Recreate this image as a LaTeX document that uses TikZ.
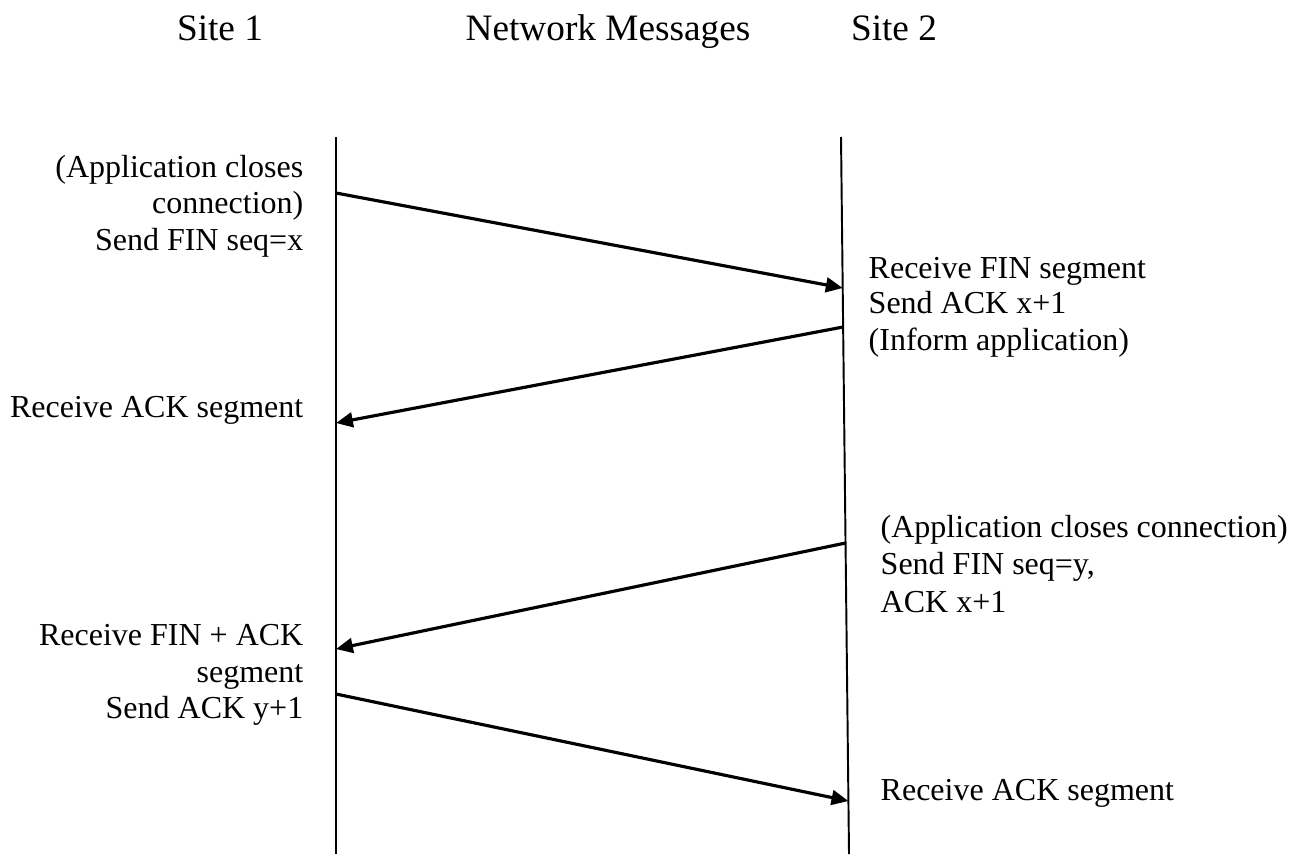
\documentclass[tikz,border=0pt]{standalone}
\usepackage{fontspec}
\setmainfont{Liberation Serif}
\usetikzlibrary{arrows.meta}
\begin{document}
\begin{tikzpicture}[x=0.01cm,y=-0.01cm,
  head/.style={font=\fontsize{10.6pt}{12pt}\selectfont,inner sep=0pt,anchor=base},
  lbl/.style={font=\fontsize{9.1pt}{10.4pt}\selectfont,inner sep=0pt},
  lft/.style={lbl,anchor=base east},
  rgt/.style={lbl,anchor=base west},
  life/.style={line width=0.55pt},
  msg/.style={line width=0.9pt,-{Triangle[length=4.8pt,width=4.2pt]}}]
\useasboundingbox (0,0) rectangle (1295,854);
% headings
\node[head] (h1) at (220,40) {Site 1};
\node[head] (hn) at (608,40) {Network Messages};
\node[head] (h2) at (894,40) {Site 2};
% lifelines
\coordinate (l1t) at (336,137);
\coordinate (l1b) at (336,854);
\coordinate (l2t) at (841,137);
\coordinate (l2b) at (849,854);
\draw[life] (l1t) -- (l1b);
\draw[life] (l2t) -- (l2b);
% message end points
\coordinate (m1s) at (336,193);
\coordinate (m1e) at (842.7,288);
\coordinate (m2s) at (843.1,327);
\coordinate (m2e) at (336,423);
\coordinate (m3s) at (845.5,543);
\coordinate (m3e) at (336,649);
\coordinate (m4s) at (336,694);
\coordinate (m4e) at (848.4,801);
\draw[msg] (m1s) -- (m1e);
\draw[msg] (m2s) -- (m2e);
\draw[msg] (m3s) -- (m3e);
\draw[msg] (m4s) -- (m4e);
% left texts
\node[lft] (a1) at (304,177) {(Application closes};
\node[lft] (a2) at (304,213) {connection)};
\node[lft] (a3) at (304,250) {Send FIN seq=x};
\node[lft] (b1) at (304,417) {Receive ACK segment};
\node[lft] (c1) at (304,645) {Receive FIN + ACK};
\node[lft] (c2) at (304,682) {segment};
\node[lft] (c3) at (304,718) {Send ACK y+1};
% right texts
\node[rgt] (d1) at (868,278) {Receive FIN segment};
\node[rgt] (d2) at (868,313) {Send ACK x+1};
\node[rgt] (d3) at (868,350) {(Inform application)};
\node[rgt] (e1) at (880,537) {(Application closes connection)};
\node[rgt] (e2) at (880,574) {Send FIN seq=y,};
\node[rgt] (e3) at (880,612) {ACK x+1};
\node[rgt] (f1) at (880,800) {Receive ACK segment};
\end{tikzpicture}
\end{document}
